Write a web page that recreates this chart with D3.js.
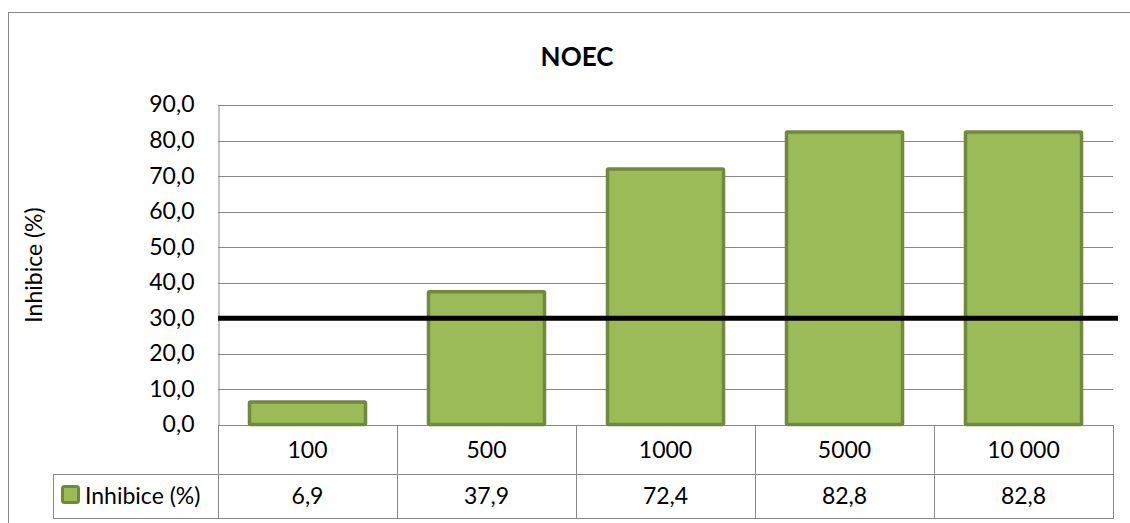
<!DOCTYPE html>
<html>
<head>
<meta charset="utf-8">
<script src="https://cdn.jsdelivr.net/npm/d3@7"></script>
<style>
  html, body { margin: 0; padding: 0; background: #fff; }
  svg { display: block; font-family: Lato, "Open Sans", sans-serif; }
</style>
</head>
<body>
<svg id="chart" width="1130" height="523"></svg>
<script>
// Concentrations tested and the measured inhibition
const categories = ["100", "500", "1000", "5000", "10 000"];
const inhibition = [6.9, 37.9, 72.4, 82.8, 82.8];
const yTicks = [0, 10, 20, 30, 40, 50, 60, 70, 80, 90];
const threshold = 30;
const seriesName = "Inhibice (%)";
const title = "NOEC";

const svg = d3.select("#chart");
const W = 1130, H = 523;
const plot = { left: 218, right: 1113, top: 105, bottom: 425 };
const rowH1 = 49, rowH2 = 44;
const legendLeft = 53;
const gridColor = "#898989";
const fontSize = 23;
const fmt = v => d3.format(".1f")(v).replace(".", ",");

// outer chart frame
svg.append("rect")
  .attr("x", 8.5).attr("y", 12.5)
  .attr("width", W).attr("height", H)
  .attr("fill", "none").attr("stroke", gridColor).attr("stroke-width", 1);

const x = d3.scaleBand()
  .domain(categories)
  .range([plot.left, plot.right])
  .paddingInner(0.335)
  .paddingOuter(0.1675);

const xCol = d3.scaleBand().domain(categories).range([plot.left, plot.right]);

const y = d3.scaleLinear().domain([0, 90]).range([plot.bottom, plot.top]);

// title
svg.append("text")
  .attr("x", 577).attr("y", 66)
  .attr("text-anchor", "middle")
  .attr("font-weight", "bold").attr("font-size", 26)
  .text(title);

// y-axis title
svg.append("text")
  .attr("transform", `translate(42,${265}) rotate(-90)`)
  .attr("text-anchor", "middle")
  .attr("font-size", fontSize)
  .text(seriesName);

// gridlines
svg.append("g").selectAll("line")
  .data(yTicks)
  .join("line")
  .attr("x1", plot.left).attr("x2", plot.right)
  .attr("y1", d => Math.round(y(d)) + 0.5).attr("y2", d => Math.round(y(d)) + 0.5)
  .attr("stroke", gridColor).attr("stroke-width", 1);

// y axis
const yAxis = d3.axisLeft(y).tickValues(yTicks).tickFormat(fmt).tickSize(0).tickPadding(10);
const yg = svg.append("g").attr("transform", `translate(${plot.left + 0.5},0)`).call(yAxis);
yg.select(".domain").attr("stroke", gridColor);
yg.selectAll("text").attr("font-size", fontSize).attr("fill", "#000")
  .attr("font-family", "Lato, 'Open Sans', sans-serif").attr("dx", -14).attr("dy", "0.3em");

// bars
svg.append("g").selectAll("rect")
  .data(inhibition)
  .join("rect")
  .attr("x", (d, i) => x(categories[i]) + 1.5)
  .attr("width", x.bandwidth() - 3)
  .attr("y", d => y(d) + 1.5)
  .attr("height", d => y(0) - y(d) - 2)
  .attr("fill", "#9BBB59")
  .attr("stroke", "#71893F")
  .attr("stroke-width", 3.5)
  .attr("rx", 1);

// threshold line
svg.append("line")
  .attr("x1", plot.left).attr("x2", 1118)
  .attr("y1", y(threshold)).attr("y2", y(threshold))
  .attr("stroke", "#000").attr("stroke-width", 5);

// data table
const table = svg.append("g").attr("stroke", gridColor).attr("stroke-width", 1).attr("fill", "none");
const r1 = plot.bottom, r2 = plot.bottom + rowH1, r3 = plot.bottom + rowH1 + rowH2;
table.append("line").attr("x1", legendLeft).attr("x2", plot.right).attr("y1", r2 + 0.5).attr("y2", r2 + 0.5);
table.append("line").attr("x1", legendLeft).attr("x2", plot.right).attr("y1", r3 + 0.5).attr("y2", r3 + 0.5);
table.append("line").attr("x1", legendLeft + 0.5).attr("x2", legendLeft + 0.5).attr("y1", r2).attr("y2", r3);
table.append("line").attr("x1", plot.right + 0.5).attr("x2", plot.right + 0.5).attr("y1", r1).attr("y2", r3 + 1);
table.selectAll(".col")
  .data(categories)
  .join("line")
  .attr("x1", d => Math.round(xCol(d)) + 0.5).attr("x2", d => Math.round(xCol(d)) + 0.5)
  .attr("y1", r1).attr("y2", r3);

svg.append("g").selectAll("text")
  .data(categories)
  .join("text")
  .attr("x", d => xCol(d) + xCol.bandwidth() / 2)
  .attr("y", r1 + rowH1 / 2 + 8)
  .attr("text-anchor", "middle").attr("font-size", fontSize)
  .text(d => d);

svg.append("g").selectAll("text")
  .data(inhibition)
  .join("text")
  .attr("x", (d, i) => xCol(categories[i]) + xCol.bandwidth() / 2)
  .attr("y", r2 + rowH2 / 2 + 8)
  .attr("text-anchor", "middle").attr("font-size", fontSize)
  .text(d => fmt(d));

// legend key
svg.append("rect")
  .attr("x", 62.5).attr("y", 486.5).attr("width", 16).attr("height", 16)
  .attr("rx", 2)
  .attr("fill", "#9BBB59").attr("stroke", "#71893F").attr("stroke-width", 3);
svg.append("text")
  .attr("x", 85).attr("y", r2 + rowH2 / 2 + 8)
  .attr("font-size", fontSize)
  .text(seriesName);
</script>
</body>
</html>
